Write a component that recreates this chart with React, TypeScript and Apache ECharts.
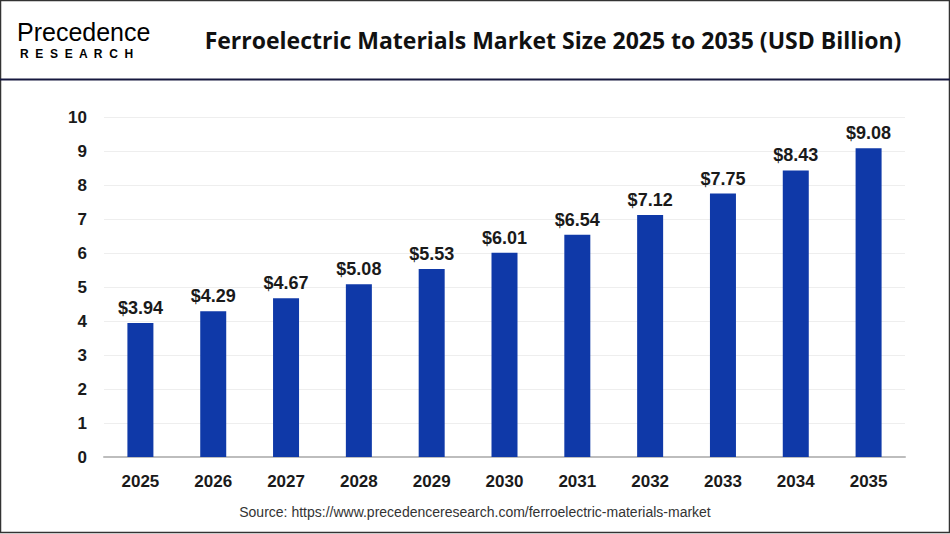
import React, { useEffect, useRef } from 'react';
import * as echarts from 'echarts';

const years = ['2025', '2026', '2027', '2028', '2029', '2030', '2031', '2032', '2033', '2034', '2035'];
const marketSize = [3.94, 4.29, 4.67, 5.08, 5.53, 6.01, 6.54, 7.12, 7.75, 8.43, 9.08];

const titleText = 'Ferroelectric Materials Market Size 2025 to 2035 (USD Billion)';
const sourceText = 'Source: https://www.precedenceresearch.com/ferroelectric-materials-market';

const App = () => {
  const chartRef = useRef<HTMLDivElement>(null);

  useEffect(() => {
    document.body.style.margin = '0';
    let chart: echarts.ECharts | null = null;
    if (chartRef.current) {
      chart = echarts.init(chartRef.current, null, { renderer: 'svg' });
      const logoFill = new echarts.graphic.LinearGradient(0, 0, 1, 0, [
        { offset: 0, color: '#1b1d5c' },
        { offset: 1, color: '#2f6ad8' },
      ]);
      const tickFont = {
        color: '#1a1a1a',
        fontSize: 17,
        fontWeight: 'bold' as const,
        fontFamily: 'Liberation Sans',
      };
      const option: echarts.EChartsOption = {
        animation: false,
        backgroundColor: '#ffffff',
        grid: { left: 104, right: 45, top: 117, bottom: 77 },
        xAxis: {
          type: 'category',
          data: years,
          axisLine: { lineStyle: { color: '#bdbdbd', width: 2 } },
          axisTick: { show: false },
          axisLabel: { margin: 16, ...tickFont },
        },
        yAxis: {
          type: 'value',
          min: 0,
          max: 10,
          interval: 1,
          axisLine: { show: false },
          axisTick: { show: false },
          splitLine: { lineStyle: { color: '#eeeeee', width: 1 } },
          axisLabel: { margin: 17, ...tickFont },
        },
        series: [
          {
            type: 'bar',
            data: marketSize,
            barWidth: 26,
            itemStyle: { color: '#0f39a8' },
            label: {
              show: true,
              position: 'top',
              distance: 6,
              formatter: (p: any) => '$' + Number(p.value).toFixed(2),
              ...tickFont,
              fontSize: 18,
            },
          },
        ],
        graphic: [
          {
            type: 'rect',
            shape: { x: 0.5, y: 0.5, width: 949, height: 532 },
            style: { fill: 'none', stroke: '#333333', lineWidth: 1.5 },
            silent: true,
          },
          {
            type: 'line',
            shape: { x1: 0, y1: 79.5, x2: 950, y2: 79.5 },
            style: { stroke: '#16183f', lineWidth: 2 },
          },
          {
            type: 'text',
            x: 553,
            y: 40,
            style: {
              text: titleText,
              fill: '#111111',
              font: 'bold 23px "Open Sans"',
              align: 'center',
              verticalAlign: 'middle',
            },
          },
          {
            type: 'text',
            x: 17,
            y: 32,
            style: {
              text: 'Precedence',
              fill: logoFill,
              font: '25px "Liberation Sans"',
              verticalAlign: 'middle',
            },
          },
          {
            type: 'text',
            x: 20,
            y: 54,
            style: {
              text: 'R  E  S  E  A  R  C  H',
              fill: logoFill,
              font: 'bold 12px "Liberation Sans"',
              verticalAlign: 'middle',
            },
          },
          {
            type: 'text',
            x: 475,
            y: 512,
            style: {
              text: sourceText,
              fill: '#333333',
              font: '14px "Liberation Sans"',
              align: 'center',
              verticalAlign: 'middle',
            },
          },
        ],
      };
      chart.setOption(option);
    }
    return () => {
      chart?.dispose();
    };
  }, []);

  return (
    <div
      ref={chartRef}
      style={{ position: 'fixed', left: 0, top: 0, width: '950px', height: '534px' }}
    />
  );
};

export default App;
